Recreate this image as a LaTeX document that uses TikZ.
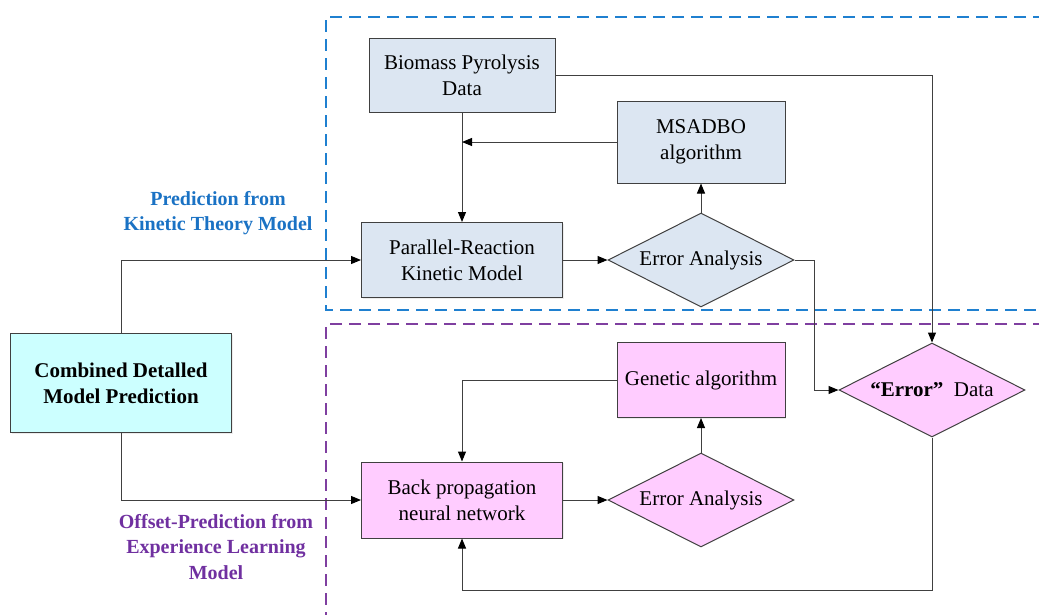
\documentclass[tikz,border=0pt]{standalone}
\usepackage{fontspec}
\setmainfont{Liberation Serif}
\usetikzlibrary{arrows.meta,shapes.geometric,shadows}
\definecolor{boxblue}{HTML}{DCE6F2}
\definecolor{boxpink}{HTML}{FFCCFF}
\definecolor{boxcyan}{HTML}{CCFFFF}
\definecolor{edge}{HTML}{404040}
\definecolor{frameblue}{HTML}{1F80D0}
\definecolor{framepurple}{HTML}{7F3FA0}
\definecolor{textblue}{HTML}{1A72C4}
\definecolor{textpurple}{HTML}{7030A0}
\tikzset{
  every node/.style={font=\fontsize{21}{26}\selectfont},
  softshadow/.style={drop shadow={shadow xshift=1.2pt,shadow yshift=-1.2pt,opacity=0.15,fill=gray}},
  procbox/.style={draw=edge,line width=1pt,rectangle,align=center,inner sep=0pt,softshadow},
  decision/.style={draw=edge,line width=1pt,diamond,aspect=2,align=center,inner sep=0pt,
    minimum width=186pt,minimum height=94pt},
  arr/.style={draw=edge,line width=1pt,-{Triangle[length=10pt,width=8pt,fill=black,color=black]}},
  frame/.style={line width=2.4pt,dash pattern=on 12pt off 7pt},
  steplabel/.style={font=\fontsize{20}{25.5}\selectfont\bfseries,align=center},
}
\begin{document}
\begin{tikzpicture}[x=1pt,y=-1pt]
\useasboundingbox (0,0) rectangle (1039,614);

% section frames
\draw[frame,frameblue] (1045,17) -- (326,17) -- (326,310) -- (1045,310);
\draw[frame,framepurple] (1045,324) -- (326,324) -- (326,620);

% kinetic-model branch
\node[procbox,fill=boxblue,minimum width=186pt,minimum height=74pt] (bio) at (462,75) {Biomass Pyrolysis\\Data};
\node[procbox,fill=boxblue,minimum width=168pt,minimum height=82pt] (msa) at (701,142) {MSADBO\\algorithm};
\node[procbox,fill=boxblue,minimum width=201pt,minimum height=75pt] (prk) at (462,260) {Parallel-Reaction\\Kinetic Model};
\node[decision,fill=boxblue] (ea1) at (701,260) {Error Analysis};

% combined prediction
\node[procbox,fill=boxcyan,minimum width=221pt,minimum height=99pt,font=\fontsize{21}{26}\selectfont\bfseries] (comb) at (121,383) {Combined Detalled\\Model Prediction};

% learning-model branch
\node[procbox,fill=boxpink,minimum width=168pt,minimum height=75pt] (ga) at (701,380) {Genetic algorithm};
\node[procbox,fill=boxpink,minimum width=201pt,minimum height=76pt] (bp) at (462,500) {Back propagation\\neural network};
\node[decision,fill=boxpink] (ea2) at (701,500) {Error Analysis};
\node[decision,fill=boxpink] (ed) at (932,390) {\textbf{“Error”}\ \ Data};

% branch labels
\node[steplabel,text=textblue] (lblk) at (218,213) {Prediction from\\Kinetic Theory Model};
\node[steplabel,text=textpurple] (lble) at (216,547) {Offset-Prediction from\\Experience Learning\\Model};

% connectors
\draw[arr] (comb.north) |- (prk.west);
\draw[arr] (comb.south) |- (bp.west);
\draw[arr] (bio.south) -- (prk.north);
\draw[arr] (msa.west) -- (msa.west -| bio.south);
\draw[arr] (prk.east) -- (ea1.west);
\draw[arr] (ea1.north) -- (msa.south);
\draw[arr] (bio.east) -| (ed.north);
\draw[arr] (ea1.east) -- ++(20,0) |- (ed.west);
\draw[arr] (ga.west) -| (bp.north);
\draw[arr] (ea2.north) -- (ga.south);
\draw[arr] (bp.east) -- (ea2.west);
\draw[arr] (ed.south) -- ++(0,153) -| (bp.south);
\end{tikzpicture}
\end{document}
